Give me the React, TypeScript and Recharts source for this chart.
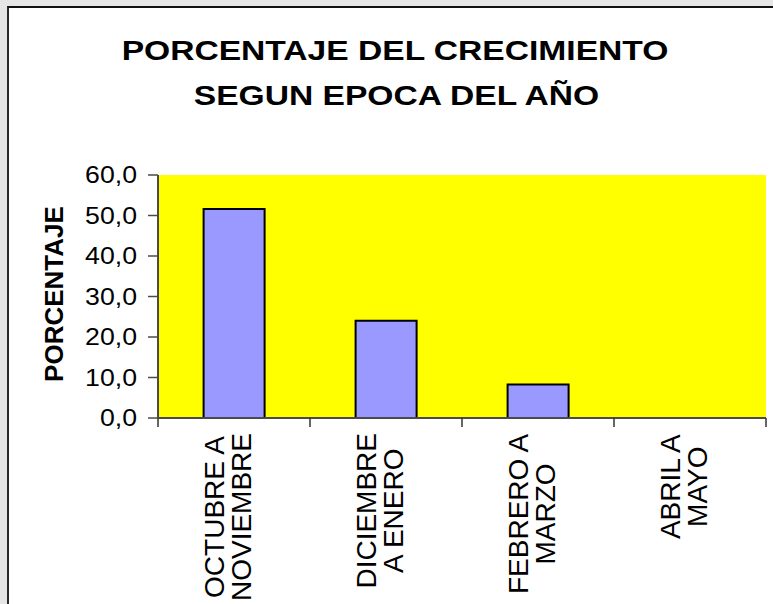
import React from 'react';
import { BarChart, Bar, XAxis, YAxis, CartesianGrid } from 'recharts';

const categories = ['OCTUBRE A NOVIEMBRE', 'DICIEMBRE A ENERO', 'FEBRERO A MARZO', 'ABRIL A MAYO'];
const categoryLines = [
  ['OCTUBRE A', 'NOVIEMBRE'],
  ['DICIEMBRE', 'A ENERO'],
  ['FEBRERO A', 'MARZO'],
  ['ABRIL A', 'MAYO'],
];
const percentages = [51.6, 24.0, 8.3, 0.0];
const yTicks = [0, 10, 20, 30, 40, 50, 60];
const titleLines = ['PORCENTAJE DEL CRECIMIENTO', 'SEGUN EPOCA DEL AÑO'];
const yAxisTitle = 'PORCENTAJE';

const data = categories.map((name, i) => ({ name, value: percentages[i] }));

const FONT = '"Liberation Sans", Arial, Helvetica, sans-serif';

let ctx: CanvasRenderingContext2D | null = null;
function measure(text: string, size: number, weight = 'normal') {
  if (!ctx) ctx = document.createElement('canvas').getContext('2d');
  if (!ctx) return text.length * size * 0.6;
  ctx.font = `${weight} ${size}px "Liberation Sans", Arial`;
  return ctx.measureText(text).width;
}

const X_FS = 28;
const X_LH = 27;

const XTick = (props: any) => {
  const { x, y, payload } = props;
  const idx = categories.indexOf(payload.value);
  const lines = categoryLines[idx] || [String(payload.value)];
  const half = typeof payload.offset === 'number' && payload.offset > 0 ? payload.offset : 76;
  const maxLen = Math.max(...lines.map((l) => measure(l, X_FS)));
  const top = y + 15;
  const cx = x - 7;
  const isLast = idx === categories.length - 1;
  return (
    <g>
      <line x1={x - half} x2={x - half} y1={y} y2={y + 9} stroke="#333" strokeWidth={1.5} />
      {isLast && <line x1={x + half} x2={x + half} y1={y} y2={y + 9} stroke="#333" strokeWidth={1.5} />}
      {lines.map((l, i) => {
        const colC = cx + (i - (lines.length - 1) / 2) * X_LH;
        const bx = colC + 0.358 * X_FS;
        return (
          <text
            key={i}
            transform={`translate(${bx},${top + maxLen / 2}) rotate(-90)`}
            textAnchor="middle"
            fontSize={X_FS}
            fontFamily={FONT}
            fill="#000"
          >
            {l}
          </text>
        );
      })}
    </g>
  );
};

const YTick = (props: any) => {
  const { x, y, payload } = props;
  const label = Number(payload.value).toFixed(1).replace('.', ',');
  return (
    <text
      transform={`translate(${x},${y + 8.3}) scale(1.16,1)`}
      textAnchor="end"
      fontSize={23}
      fontFamily={FONT}
      fill="#000"
    >
      {label}
    </text>
  );
};

export default function App() {
  return (
    <div
      style={{
        position: 'absolute',
        left: 0,
        top: 0,
        width: 773,
        height: 604,
        overflow: 'hidden',
        background: '#e6e6e6',
      }}
    >
      <div
        style={{
          position: 'absolute',
          left: 7,
          top: 6,
          width: 766,
          height: 598,
          boxSizing: 'border-box',
          background: '#ffffff',
          borderLeft: '2px solid #2a2a2a',
          borderTop: '2px solid #111111',
        }}
      />
      <div style={{ position: 'absolute', left: 0, top: 0 }}>
        <BarChart
          width={773}
          height={604}
          data={data}
          margin={{ top: 175, right: 7, bottom: 0, left: 0 }}
          barCategoryGap="30%"
        >
          <CartesianGrid fill="#ffff00" horizontal={false} vertical={false} />
          <XAxis
            xAxisId="top"
            dataKey="name"
            orientation="top"
            height={0}
            tick={false}
            tickLine={false}
            axisLine={{ stroke: '#8c8c8c', strokeWidth: 2 }}
          />
          <YAxis
            yAxisId="right"
            orientation="right"
            width={0}
            domain={[0, 60]}
            tick={false}
            tickLine={false}
            axisLine={{ stroke: '#8c8c8c', strokeWidth: 2 }}
          />
          <XAxis
            dataKey="name"
            height={186}
            interval={0}
            tickSize={0}
            tickMargin={0}
            tickLine={false}
            axisLine={{ stroke: '#4a4a4a', strokeWidth: 2 }}
            tick={<XTick />}
          />
          <YAxis
            width={158}
            type="number"
            domain={[0, 60]}
            ticks={yTicks}
            interval={0}
            tickSize={10}
            tickMargin={11}
            tickLine={{ stroke: '#4a4a4a', strokeWidth: 1.5 }}
            axisLine={{ stroke: '#4a4a4a', strokeWidth: 2 }}
            tick={<YTick />}
            label={{
              content: () => (
                <text
                  transform="translate(63,294) rotate(-90)"
                  textAnchor="middle"
                  fontSize={26}
                  fontWeight="bold"
                  fontFamily={FONT}
                  fill="#000"
                >
                  {yAxisTitle}
                </text>
              ),
            }}
          />
          <Bar
            dataKey="value"
            fill="#9999ff"
            stroke="#000000"
            strokeWidth={2}
            isAnimationActive={false}
          />
        </BarChart>
      </div>
      <svg
        width={773}
        height={604}
        style={{ position: 'absolute', left: 0, top: 0, pointerEvents: 'none' }}
      >
        <text
          transform="translate(395,59.5) scale(1.2,1)"
          textAnchor="middle"
          fontSize={28}
          fontWeight="bold"
          fontFamily={FONT}
          fill="#000"
        >
          {titleLines[0]}
        </text>
        <text
          transform="translate(396.5,105) scale(1.2,1)"
          textAnchor="middle"
          fontSize={28}
          fontWeight="bold"
          fontFamily={FONT}
          fill="#000"
        >
          {titleLines[1]}
        </text>
      </svg>
    </div>
  );
}
